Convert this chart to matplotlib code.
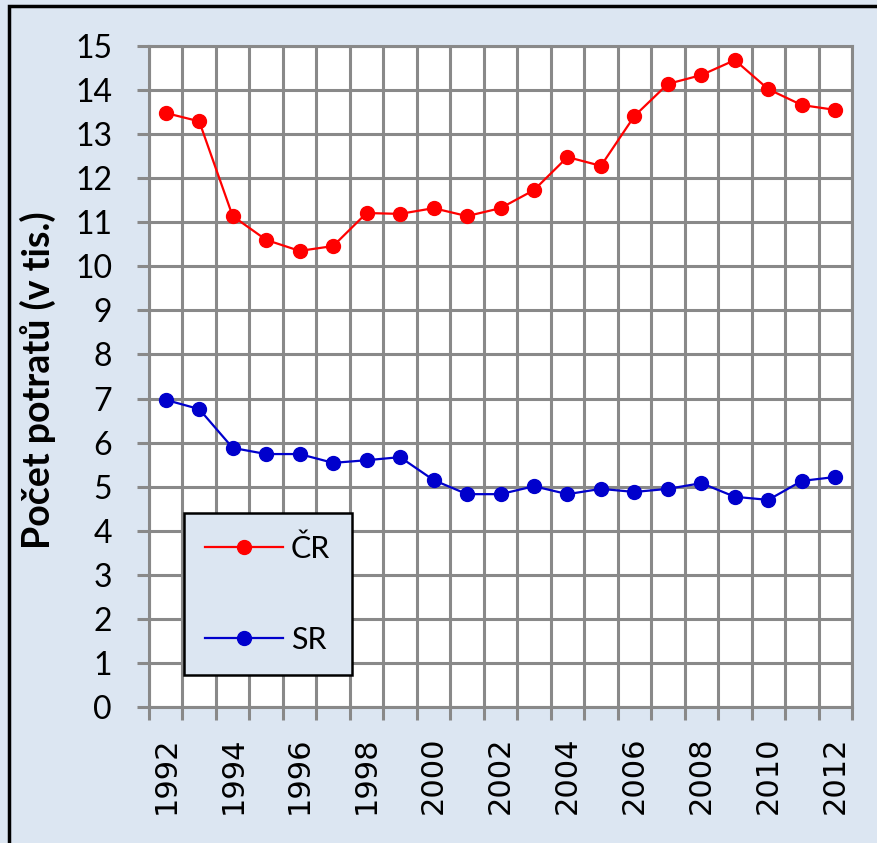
import numpy as np
import matplotlib
matplotlib.use("Agg")
import matplotlib.pyplot as plt
from matplotlib.patches import Rectangle

years = list(range(1992, 2013))
cr = [13.48, 13.29, 11.14, 10.60, 10.35, 10.46, 11.21, 11.19, 11.32, 11.14, 11.32,
      11.73, 12.48, 12.28, 13.41, 14.14, 14.34, 14.68, 14.02, 13.66, 13.55]
sr = [6.97, 6.76, 5.88, 5.74, 5.74, 5.54, 5.60, 5.67, 5.15, 4.83, 4.83,
      5.01, 4.83, 4.95, 4.88, 4.95, 5.08, 4.77, 4.70, 5.13, 5.22]
series_labels = ["ČR", "SR"]
ylabel = "Počet potratů (v tis.)"

bg = "#dce6f2"
gridc = "#898989"

fig = plt.figure(figsize=(8.77, 8.43), dpi=100, facecolor=bg)
ax = fig.add_axes([149/877, 1-707/843, 703/877, 661/843])
ax.set_facecolor("white")

x = np.arange(len(years))
ax.plot(x, cr, color="#ff0000", lw=1.6, marker="o", ms=10, label=series_labels[0], zorder=3)
ax.plot(x, sr, color="#0000cc", lw=1.6, marker="o", ms=10, label=series_labels[1], zorder=3)

ax.set_xlim(-0.5, len(years) - 0.5)
ax.set_ylim(0, 15)
ax.set_yticks(range(0, 16))
ax.set_xticks(np.arange(-0.5, len(years), 1.0))
ax.set_xticklabels([])
ax.set_xticks(x[::2], minor=True)
ax.set_xticklabels([str(y) for y in years[::2]], minor=True, rotation=90,
                   fontsize=22, family="DejaVu Sans", va="top")
ax.tick_params(axis="x", which="minor", length=0, pad=21)
ax.tick_params(axis="x", which="major", length=9, width=2.2, color=gridc)
ax.tick_params(axis="y", length=8.6, width=2.2, color=gridc, pad=18, labelsize=23)
for lab in ax.get_yticklabels():
    lab.set_family("Lato")

ax.grid(True, which="major", color=gridc, lw=2.2, zorder=1)
ax.set_axisbelow(True)
for s in ax.spines.values():
    s.set_color(gridc)
    s.set_linewidth(2.2)

ax.set_ylabel(ylabel, fontsize=27, fontweight="bold", family="Lato")
ax.yaxis.set_label_coords(-0.132, 0.495)

leg = ax.legend(loc="lower left", bbox_to_anchor=(0.0498, 0.048), frameon=True,
                fancybox=False, prop={"family": "Lato", "size": 22},
                handlelength=2.55, labelspacing=2.06, borderpad=0.7, handletextpad=0.25,
                borderaxespad=0)
leg.get_frame().set_facecolor(bg)
leg.get_frame().set_edgecolor("black")
leg.get_frame().set_linewidth(1.8)
leg.get_frame().set_alpha(1)

fig.add_artist(Rectangle((9/877, -0.1), 1.5, 1.1 - 6/843, transform=fig.transFigure,
                         fill=False, ec="black", lw=2.5, clip_on=False))

fig.savefig("out.png", dpi=100, facecolor=bg)
